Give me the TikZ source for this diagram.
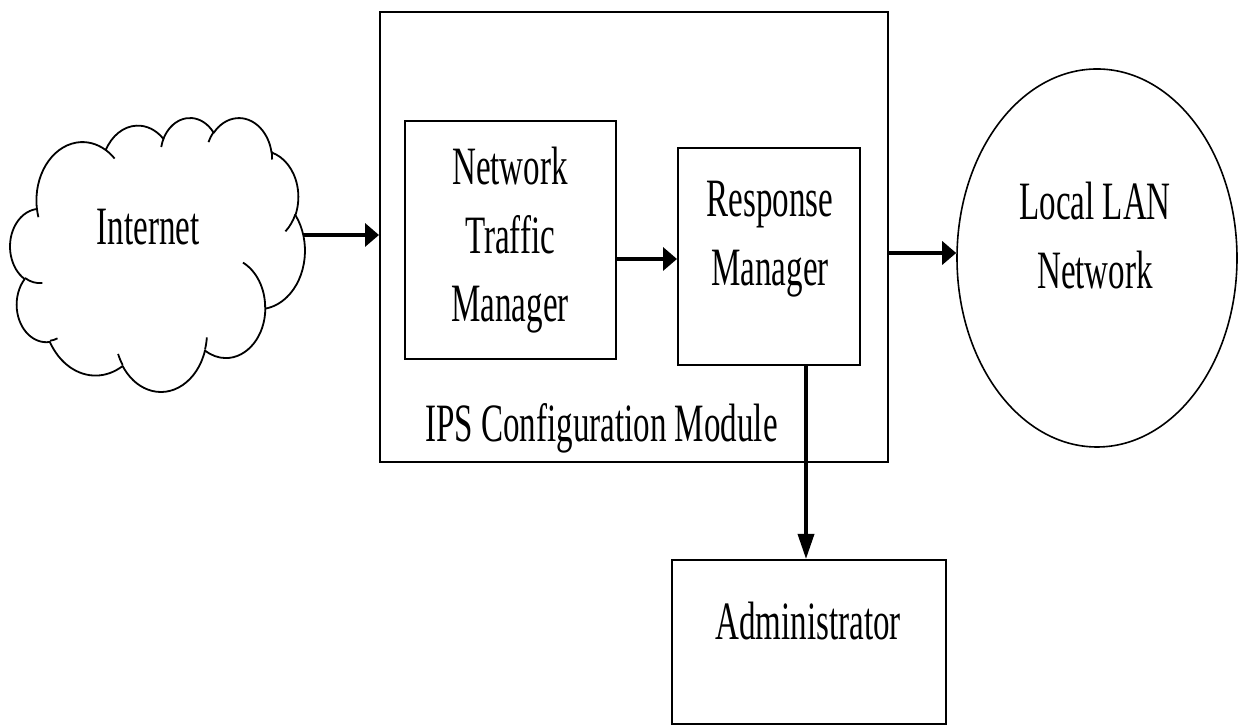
\documentclass[tikz,border=0pt]{standalone}
\usepackage{fontspec}
\usepackage{graphicx}
\setmainfont{Liberation Serif}
\usetikzlibrary{arrows.meta,shapes.geometric}

% condensed lettering used for every label
\newcommand{\sqtext}[1]{\scalebox{0.612}[1]{#1}}
\newcommand{\stack}[1]{\sqtext{\begin{tabular}[t]{@{}c@{}}#1\end{tabular}}}

\tikzset{
  box/.style={draw, rectangle, line width=2pt, inner sep=0pt},
  harrow/.style={line width=4.5pt, -{Triangle[length=14pt,width=23pt]}},
  varrow/.style={line width=3.5pt, -{Triangle[length=25pt,width=16pt]}},
  txt/.style={inner sep=0pt, font=\fontsize{54}{68.5}\selectfont},
  cloudline/.style={line width=1.8pt, line join=round},
}

\begin{document}
\begin{tikzpicture}[x=1pt,y=1pt]
\path[fill=white,use as bounding box] (0,0) rectangle (1239,727);

% ---- Internet cloud (eleven elliptic puffs plus their inner creases)
\begin{scope}[shift={(10.27pt,609.9pt)}, xscale=0.6819, yscale=-0.634]
  \draw[cloudline, fill=white] (39,143.70)
    arc[start angle=-187.75, end angle=-59.63, x radius=67.53pt, y radius=91.90pt]
    arc[start angle=-152.02, end angle=-45.44, x radius=53.33pt, y radius=72.67pt]
    arc[start angle=-153.48, end angle=-37.31, x radius=43.65pt, y radius=59.45pt]
    arc[start angle=-139.69, end angle=-10.21, x radius=48.57pt, y radius=65.95pt]
    arc[start angle=-74.77, end angle=23.21, x radius=53.33pt, y radius=72.73pt]
    arc[start angle=-37.51, end angle=81.86, x radius=67.75pt, y radius=92.20pt]
    arc[start angle=0.46, end angle=121.98, x radius=57.85pt, y radius=78.67pt]
    arc[start angle=16.85, end angle=146.26, x radius=67.52pt, y radius=92.15pt]
    arc[start angle=58.99, end angle=150.20, x radius=77.20pt, y radius=105.43pt]
    arc[start angle=-276.69, end angle=-136.90, x radius=43.60pt, y radius=59.18pt]
    arc[start angle=-239.65, end angle=-95.89, x radius=43.45pt, y radius=59.45pt]
    -- cycle;
  \draw[cloudline]
    (46.93,261.77) arc[start angle=85.55, end angle=120.35, x radius=43.45pt, y radius=59.45pt]
    (69.28,348.99) arc[start angle=68.24, end angle=83.31, x radius=43.60pt, y radius=59.18pt]
    (164.78,390.90) arc[start angle=146.26, end angle=158.47, x radius=67.52pt, y radius=92.15pt]
    (288.27,347.51) arc[start angle=4.74, end angle=16.85, x radius=67.52pt, y radius=92.15pt]
    (341.29,229.54) arc[start angle=-64.03, end angle=0.46, x radius=57.85pt, y radius=78.67pt]
    (417.98,153.54) arc[start angle=23.21, end angle=49.63, x radius=53.33pt, y radius=72.73pt]
    (383.24,54.26) arc[start angle=-10.21, end angle=0.82, x radius=48.57pt, y radius=65.95pt]
    (290.78,39.52) arc[start angle=-156.28, end angle=-139.69, x radius=48.57pt, y radius=65.95pt]
    (221.41,47.20) arc[start angle=-167.73, end angle=-153.48, x radius=43.65pt, y radius=59.45pt]
    (140.00,51.92) arc[start angle=-59.63, end angle=-45.72, x radius=67.53pt, y radius=91.90pt]
    (41.27,157.89) arc[start angle=163.19, end angle=172.25, x radius=67.53pt, y radius=91.90pt];
\end{scope}
\node[txt, anchor=base] (internet) at (148,482.7) {\sqtext{Internet}};
\coordinate (cloudR) at (303.3,492);

% ---- IPS module and its two managers
\node[box, minimum width=508pt, minimum height=450pt] (ips) at (634,490) {};
\node[box, minimum width=211pt, minimum height=238pt] (ntm) at (510.5,487) {};
\node[box, minimum width=182pt, minimum height=217pt] (rm) at (769,470.5) {};
\node[txt, anchor=base] (ntmtext) at (510,542) {\stack{Network\\Traffic\\Manager}};
\node[txt, anchor=base] (rmtext) at (770,510.3) {\stack{Response\\Manager}};
\node[txt, anchor=base west] (ipstext) at (425,285.3) {\sqtext{IPS Configuration Module}};

% ---- local network and administrator
\node[draw, ellipse, line width=1.6pt, inner sep=0pt,
      minimum width=280pt, minimum height=378pt] (lan) at (1097,469) {};
\node[txt, anchor=base] (lantext) at (1095,507) {\stack{Local LAN\\Network}};
\node[box, minimum width=274pt, minimum height=164pt] (admin) at (809,85) {};
\node[txt, anchor=base] (admintext) at (808,87) {\sqtext{Administrator}};

% ---- connectors
\draw[harrow] (cloudR) -- (cloudR -| ips.west);
\draw[harrow] ([yshift=-19pt]ntm.east) -- ([yshift=-19pt]ntm.east -| rm.west);
\draw[harrow] ([yshift=-16pt]ips.east) -- ([yshift=-16pt]ips.east -| lan.west);
\draw[varrow] ([xshift=37pt]rm.south) -- ([xshift=37pt]rm.south |- admin.north);
\end{tikzpicture}
\end{document}
